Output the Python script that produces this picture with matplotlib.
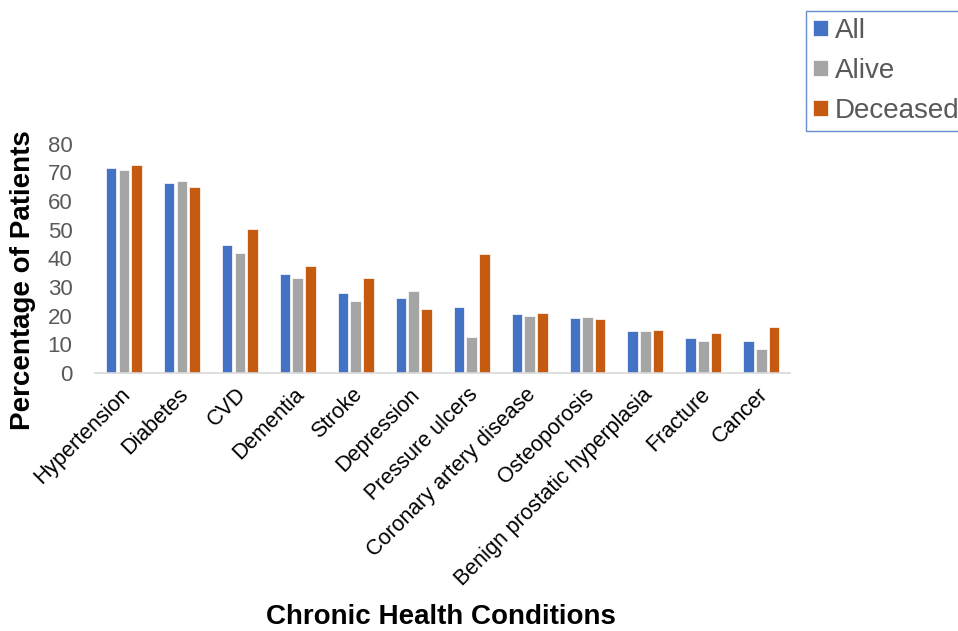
import matplotlib.pyplot as plt
import matplotlib.transforms as mtransforms
import numpy as np

plt.rcParams['font.family'] = ['Liberation Sans', 'DejaVu Sans']

conditions = ['Hypertension', 'Diabetes', 'CVD', 'Dementia', 'Stroke', 'Depression',
              'Pressure ulcers', 'Coronary artery disease', 'Osteoporosis',
              'Benign prostatic hyperplasia', 'Fracture', 'Cancer']
all_pct = [71.6, 66.3, 44.8, 34.4, 28.0, 26.3, 23.0, 20.5, 19.2, 14.8, 12.1, 11.1]
alive_pct = [70.9, 67.0, 41.8, 33.0, 25.1, 28.6, 12.7, 20.0, 19.5, 14.6, 11.1, 8.4]
deceased_pct = [72.7, 64.8, 50.2, 37.3, 33.0, 22.3, 41.6, 21.1, 18.8, 15.0, 13.9, 16.1]

series = [('All', all_pct, '#4472C4'),
          ('Alive', alive_pct, '#A5A5A5'),
          ('Deceased', deceased_pct, '#C55A11')]

fig = plt.figure(figsize=(9.58, 6.31), dpi=100)
ax = fig.add_axes([0.099, 0.409, 0.726, 0.363])

x = np.arange(len(conditions))
w = 0.18
gap = 0.22
for i, (name, vals, col) in enumerate(series):
    ax.bar(x + (i - 1) * gap, vals, w, color=col, edgecolor='white', linewidth=0.5, label=name)

ax.set_xlim(-0.5, len(conditions) - 0.5)
ax.set_ylim(0, 80)
ax.set_yticks(range(0, 81, 10))
ax.tick_params(axis='y', length=0, labelsize=16, labelcolor='#595959', pad=16)
ax.tick_params(axis='x', length=0, labelsize=15.5, pad=8)
ax.set_xticks(x)
ax.set_xticklabels(conditions, rotation=45, ha='right', rotation_mode='anchor')
# nudge rotated labels a bit to the left, like the original
shift = mtransforms.ScaledTranslation(-4 / 100, 0, fig.dpi_scale_trans)
for lab in ax.get_xticklabels():
    lab.set_transform(lab.get_transform() + shift)
for s in ['top', 'right', 'left']:
    ax.spines[s].set_visible(False)
ax.spines['bottom'].set_color('#D9D9D9')
ax.spines['bottom'].set_linewidth(1.2)

ax.set_ylabel('Percentage of Patients', fontsize=20, fontweight='bold')
ax.yaxis.set_label_coords(-0.084, 0.406)
fig.text(0.46, 0.022, 'Chronic Health Conditions', fontsize=20, fontweight='bold',
         ha='center', va='center')

leg = fig.legend(loc='upper left', bbox_to_anchor=(806 / 958, 1 - 11 / 631),
                 fontsize=20, frameon=True, fancybox=False, handlelength=0.55,
                 handleheight=0.55, handletextpad=0.25, labelspacing=0.5,
                 borderaxespad=0, borderpad=0.25)
leg.get_frame().set_edgecolor('#4472C4')
leg.get_frame().set_linewidth(1.0)
for t in leg.get_texts():
    t.set_color('#595959')

fig.savefig('out.png', dpi=100)
